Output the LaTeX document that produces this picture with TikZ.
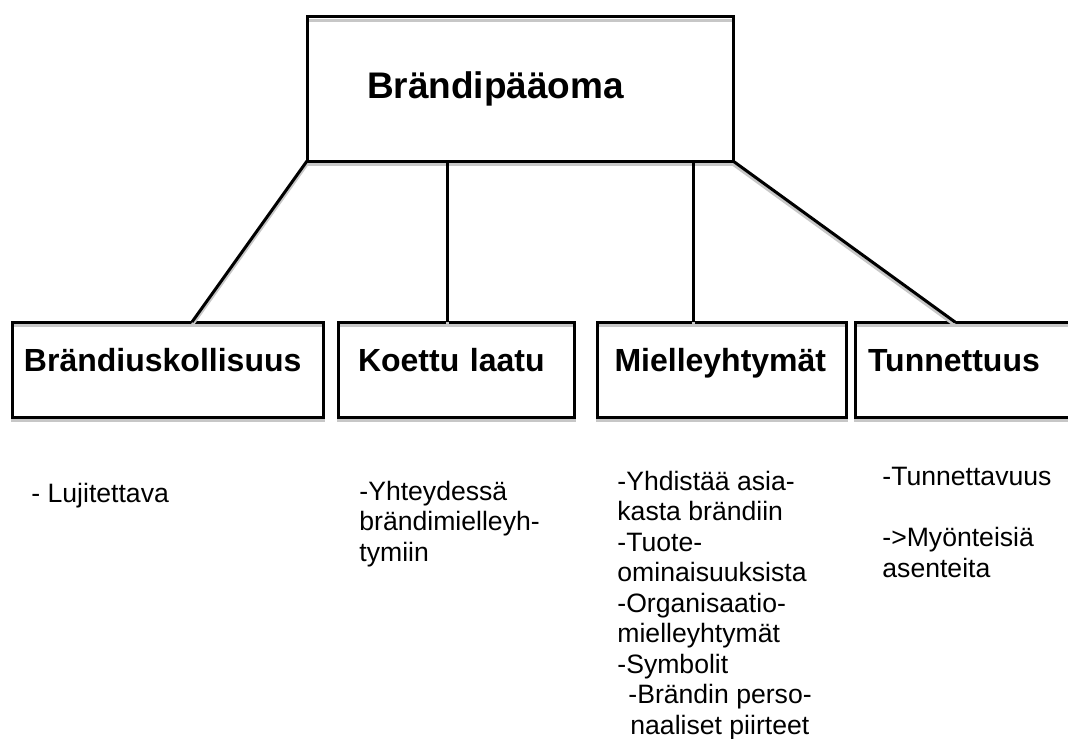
\documentclass[tikz,border=0pt]{standalone}
\usepackage{fontspec}
\setmainfont{Liberation Sans}
\usepackage{tikz}

\tikzset{
    box/.style={draw, line width=1.5pt, outer sep=0pt, inner ysep=0pt, anchor=north west, align=left,
        font=\bfseries\fontsize{16}{19}\selectfont, text height=24.5pt, text depth=23pt,
        preaction={draw=black!22, line width=1.5pt, transform canvas={yshift=-1.65pt}}},
    link/.style={line width=1.5pt, preaction={draw=black!22, line width=1.5pt, transform canvas={yshift=-1.65pt}}},
    note/.style={anchor=base west, align=left, inner sep=0pt, font=\fontsize{13.3}{15.25}\selectfont}
}

\begin{document}
\begin{tikzpicture}[x=0.5pt, y=-0.5pt]
            \useasboundingbox (0, 0) rectangle (1068, 738);
            \clip (0, 0) rectangle (1068, 738);
            \node[box, inner xsep=30pt, text width=153pt, text height=40.5pt, text depth=31.5pt,
                font=\bfseries\fontsize{18.5}{22}\selectfont] (top) at (307, 17) {Brändipääoma};
            \node[box, inner xsep=6pt, text width=143.5pt] (b1) at (12, 322) {Brändiuskollisuus};
            \node[box, inner xsep=10pt, text width=98pt] (b2) at (338, 322) {Koettu laatu};
            \node[box, inner xsep=8.75pt, text width=107pt] (b3) at (597, 322) {Mielleyhtymät};
            \node[box, inner xsep=6.5pt, text width=102pt] (b4) at (855, 322) {Tunnettuus};
            \draw[link] (top.south west) -- ([xshift=12.25pt]b1.north);
            \draw[link] ([xshift=-4.5pt]b2.north |- top.south) -- ([xshift=-4.5pt]b2.north);
            \draw[link] ([xshift=-14.25pt]b3.north |- top.south) -- ([xshift=-14.25pt]b3.north);
            \draw[link] (top.south east) -- ([xshift=-7.5pt]b4.north);
            \node[note] (n1) at (31, 502) {- Lujitettava};
            \node[note] (n2) at (359, 561) {-Yhteydessä\\brändimielleyh-\\tymiin};
            \node[note] (n3) at (617, 734) {-Yhdistää asia-\\kasta brändiin\\-Tuote-\\ominaisuuksista\\-Organisaatio-\\mielleyhtymät\\-Symbolit\\\hspace*{5.5pt}-Brändin perso-\\\hspace*{6.5pt}naaliset piirteet};
            \node[note] (n4) at (882, 577) {-Tunnettavuus\\[15.25pt]->Myönteisiä\\asenteita};
    \end{tikzpicture}
\end{document}
